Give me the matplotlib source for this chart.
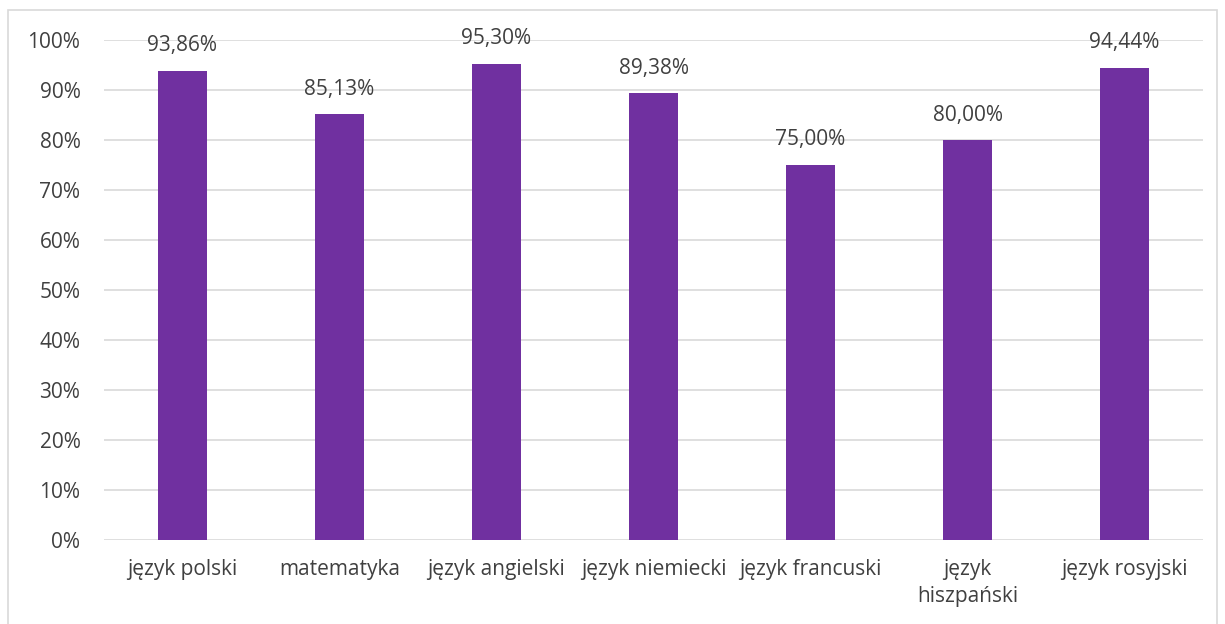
import matplotlib
matplotlib.use("Agg")
import matplotlib.pyplot as plt
from matplotlib.patches import Rectangle
from matplotlib.ticker import FixedLocator

categories = ["język polski", "matematyka", "język angielski", "język niemiecki",
              "język francuski", "język\nhiszpański", "język rosyjski"]
values = [93.86, 85.13, 95.30, 89.38, 75.00, 80.00, 94.44]
yticks = [0, 10, 20, 30, 40, 50, 60, 70, 80, 90, 100]

plt.rcParams['font.family'] = ['Open Sans', 'DejaVu Sans']
text_color = "#404040"
fs = 15

fig = plt.figure(figsize=(12.25, 6.24), dpi=100)
ax = fig.add_axes([104/1225, 1-540/624, (1203-104)/1225, 500/624])

x = list(range(len(categories)))
ax.bar(x, values, width=0.31, color="#7030A0", zorder=3)
for xi, v in zip(x, values):
    ax.text(xi, v + 5.0, f"{v:.2f}%".replace(".", ","), ha="center", va="center",
            fontsize=fs, color=text_color)

ax.set_xlim(-0.5, len(categories) - 0.5)
ax.set_ylim(0, 100)
ax.yaxis.set_major_locator(FixedLocator(yticks))
ax.set_yticklabels([f"{t}%" for t in yticks], fontsize=fs, color=text_color)
ax.set_xticks(x)
ax.set_xticklabels(categories, fontsize=fs, color=text_color, linespacing=1.35)
ax.tick_params(axis="both", length=0)
ax.tick_params(axis="y", pad=17)
ax.tick_params(axis="x", pad=14)
ax.grid(axis="y", color="#D9D9D9", linewidth=1.2, zorder=0)
for s in ax.spines.values():
    s.set_visible(False)

fig.patches.append(Rectangle((8/1225, -0.05), (1217-8)/1225, 1 - 10/624 + 0.05,
                             transform=fig.transFigure, fill=False,
                             edgecolor="#D9D9D9", linewidth=1.2))

fig.savefig("out.png", dpi=100)
